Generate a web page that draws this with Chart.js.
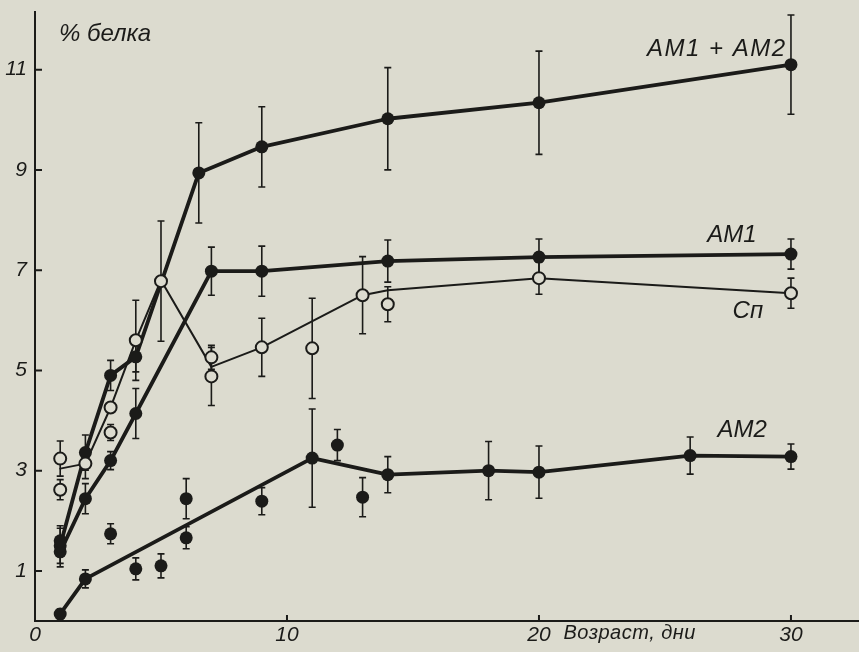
<!DOCTYPE html>
<html>
<head>
<meta charset="utf-8">
<script src="https://cdn.jsdelivr.net/npm/chart.js@4.4.1/dist/chart.umd.min.js"></script>
<style>
  html, body { margin: 0; padding: 0; background: #dcdbcf; }
  canvas { display: block; }
</style>
</head>
<body>
<canvas id="proteinChart" width="859" height="652"></canvas>
<script>
// Age (days) on x, % protein on y
const xTicks = [0, 10, 20, 30];
const yTicks = [1, 3, 5, 7, 9, 11];

// АМ1 + АМ2
const am12Days = [1, 2, 3, 4, 6.5, 9, 14, 20, 30];
const am12Vals = [1.5, 3.36, 4.9, 5.27, 8.94, 9.46, 10.02, 10.34, 11.1];
const am12Err  = [0.35, 0.35, 0.3, 0.3, 1.0, 0.8, 1.02, 1.03, 0.99];

// АМ1
const am1Days = [1, 2, 3, 4, 7, 9, 14, 20, 30];
const am1Vals = [1.38, 2.44, 3.2, 4.14, 6.98, 6.98, 7.18, 7.26, 7.32];
const am1Err  = [0.3, 0.3, 0.18, 0.5, 0.48, 0.5, 0.42, 0.36, 0.3];

// Сп: the line and the open circles
const cnLineDays = [1, 2, 3, 4, 5, 7, 9, 13, 14, 20, 30];
const cnLineVals = [3.04, 3.14, 4.26, 5.6, 6.8, 5.07, 5.46, 6.5, 6.6, 6.84, 6.54];
const cnDays = [1, 1, 2, 3, 3, 4, 5, 7, 7, 9, 11, 13, 14, 20, 30];
const cnVals = [3.24, 2.62, 3.14, 4.26, 3.76, 5.6, 6.78, 5.26, 4.88, 5.46, 5.44, 6.5, 6.32, 6.84, 6.54];
const cnErr  = [0.35, 0.2, 0.3, 0, 0.16, 0.8, 1.2, 0.24, 0.58, 0.58, 1.0, 0.77, 0.35, 0.32, 0.3];

// АМ2 line
const am2Days = [1, 2, 11, 14, 18, 20, 26, 30];
const am2Vals = [0.14, 0.84, 3.25, 2.92, 3.0, 2.97, 3.3, 3.28];
const am2Err  = [0.1, 0.18, 0.98, 0.36, 0.58, 0.52, 0.37, 0.25];

// single filled points off the lines
const dotDays = [1, 3, 4, 5, 6, 6, 9, 12, 13];
const dotVals = [1.6, 1.74, 1.04, 1.1, 2.44, 1.66, 2.39, 3.51, 2.47];
const dotErr  = [0.3, 0.2, 0.22, 0.24, 0.4, 0.22, 0.27, 0.31, 0.39];

const ink = '#1b1b19';
const paper = '#dcdbcf';
const fontFamily = '"Liberation Sans", Arial, sans-serif';

function pts(days, vals) {
    return days.map((d, i) => ({ x: d, y: vals[i] }));
}

// text on the figure, placed in data units
const notes = [
    { text: '% белка', x: 2.78, y: 11.7, size: 24, spacing: '0px' },
    { text: 'АМ1 + АМ2', x: 27.06, y: 11.4, size: 24, spacing: '1.5px' },
    { text: 'АМ1', x: 27.66, y: 7.7, size: 24, spacing: '0px' },
    { text: 'Сп', x: 28.29, y: 6.17, size: 24, spacing: '0px' },
    { text: 'АМ2', x: 28.06, y: 3.81, size: 24, spacing: '0px' },
    { text: 'Возраст, дни', x: 23.6, y: -0.24, size: 20, spacing: '0.5px' }
];

const figurePlugin = {
    id: 'figure',
    beforeDraw(chart) {
        const ctx = chart.ctx;
        ctx.save();
        ctx.fillStyle = paper;
        ctx.fillRect(0, 0, chart.width, chart.height);
        ctx.restore();
    },
    beforeDatasetsDraw(chart) {
        // error bars
        const ctx = chart.ctx;
        const xs = chart.scales.x, ys = chart.scales.y;
        ctx.save();
        ctx.strokeStyle = ink;
        ctx.lineWidth = 1.6;
        chart.data.datasets.forEach(ds => {
            if (!ds.errors) return;
            ds.data.forEach((p, i) => {
                const e = ds.errors[i];
                if (!e) return;
                const x = xs.getPixelForValue(p.x);
                const top = ys.getPixelForValue(p.y + e);
                const bot = ys.getPixelForValue(p.y - e);
                ctx.beginPath();
                ctx.moveTo(x, top); ctx.lineTo(x, bot);
                ctx.moveTo(x - 3.5, top); ctx.lineTo(x + 3.5, top);
                ctx.moveTo(x - 3.5, bot); ctx.lineTo(x + 3.5, bot);
                ctx.stroke();
            });
        });
        ctx.restore();
    },
    afterDraw(chart) {
        const ctx = chart.ctx;
        const xs = chart.scales.x, ys = chart.scales.y;
        const area = chart.chartArea;
        ctx.save();
        // inward tick marks
        ctx.strokeStyle = ink;
        ctx.lineWidth = 2;
        ctx.beginPath();
        yTicks.forEach(v => {
            const y = ys.getPixelForValue(v);
            ctx.moveTo(area.left, y); ctx.lineTo(area.left + 7, y);
        });
        xTicks.forEach(v => {
            if (v === 0) return;
            const x = xs.getPixelForValue(v);
            ctx.moveTo(x, area.bottom); ctx.lineTo(x, area.bottom - 6);
        });
        ctx.stroke();
        // labels
        ctx.fillStyle = ink;
        ctx.textAlign = 'center';
        ctx.textBaseline = 'middle';
        notes.forEach(n => {
            ctx.font = 'italic ' + n.size + 'px ' + fontFamily;
            ctx.letterSpacing = n.spacing;
            ctx.fillText(n.text, xs.getPixelForValue(n.x), ys.getPixelForValue(n.y));
        });
        ctx.restore();
    }
};

const lineBase = {
    showLine: true,
    borderColor: ink,
    tension: 0,
    borderJoinStyle: 'round',
    borderCapStyle: 'round',
    pointStyle: 'circle',
    pointBackgroundColor: ink,
    pointBorderWidth: 0,
    pointRadius: 6.5,
    clip: false
};

function noPadding(s) {
    s.paddingTop = 0; s.paddingBottom = 0;
    s.paddingLeft = 0; s.paddingRight = 0;
}

const ctx = document.getElementById('proteinChart').getContext('2d');
const chart = new Chart(ctx, {
    type: 'scatter',
    data: {
        datasets: [
            Object.assign({}, lineBase, {
                label: 'АМ1 + АМ2', data: pts(am12Days, am12Vals), errors: am12Err,
                borderWidth: 3.8, order: 3
            }),
            Object.assign({}, lineBase, {
                label: 'АМ1', data: pts(am1Days, am1Vals), errors: am1Err,
                borderWidth: 3.8, order: 4
            }),
            Object.assign({}, lineBase, {
                label: 'Сп line', data: pts(cnLineDays, cnLineVals),
                borderWidth: 2, pointRadius: 0, order: 5
            }),
            Object.assign({}, lineBase, {
                label: 'АМ2', data: pts(am2Days, am2Vals), errors: am2Err,
                borderWidth: 3.8, order: 2
            }),
            {
                label: 'Сп', data: pts(cnDays, cnVals), errors: cnErr,
                showLine: false, pointStyle: 'circle', pointRadius: 6,
                pointBackgroundColor: paper, pointBorderColor: ink, pointBorderWidth: 2,
                clip: false, order: 1
            },
            {
                label: 'АМ2 points', data: pts(dotDays, dotVals), errors: dotErr,
                showLine: false, pointStyle: 'circle', pointRadius: 6.5,
                pointBackgroundColor: ink, pointBorderWidth: 0,
                clip: false, order: 0
            }
        ]
    },
    options: {
        responsive: false,
        animation: false,
        devicePixelRatio: 1,
        layout: { autoPadding: false, padding: { top: 12, right: 0, bottom: 0, left: 0 } },
        plugins: {
            legend: { display: false },
            tooltip: { enabled: false }
        },
        scales: {
            x: {
                type: 'linear',
                min: 0,
                max: 32.7,
                grid: { display: false, drawTicks: false },
                border: { color: ink, width: 2 },
                ticks: {
                    color: ink,
                    padding: 2,
                    maxRotation: 0,
                    autoSkip: false,
                    font: { family: fontFamily, style: 'italic', size: 21 }
                },
                afterBuildTicks: s => { s.ticks = xTicks.map(v => ({ value: v })); },
                afterFit: s => { s.height = 31; noPadding(s); }
            },
            y: {
                min: 0,
                max: 12.15,
                grid: { display: false, drawTicks: false },
                border: { color: ink, width: 2 },
                ticks: {
                    color: ink,
                    padding: 8,
                    autoSkip: false,
                    font: { family: fontFamily, style: 'italic', size: 21 }
                },
                afterBuildTicks: s => { s.ticks = yTicks.map(v => ({ value: v })); },
                afterFit: s => { s.width = 35; noPadding(s); }
            }
        }
    },
    plugins: [figurePlugin]
});
</script>
</body>
</html>
